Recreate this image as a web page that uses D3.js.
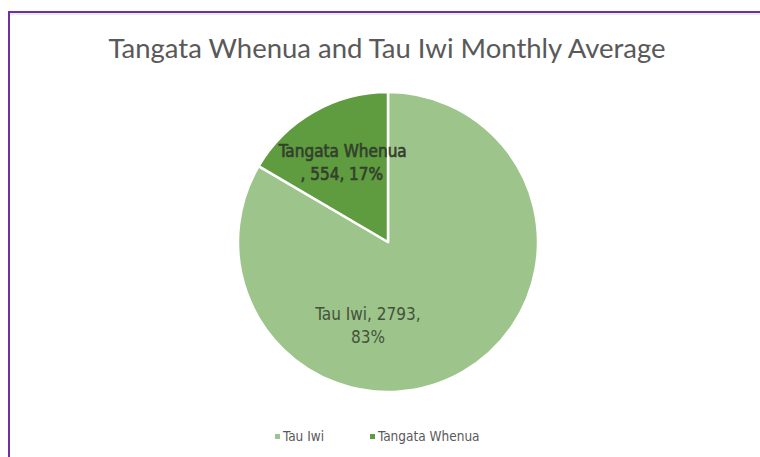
<!DOCTYPE html>
<html><head><meta charset="utf-8">
<script src="https://cdn.jsdelivr.net/npm/d3@7"></script>
<style>html,body{margin:0;padding:0;background:#fff;}svg{display:block;}</style>
</head><body>
<svg id="c" width="760" height="457"></svg>
<script>
const categories = ["Tau Iwi", "Tangata Whenua"];
const values = [2793, 554];
const percents = ["83%", "17%"];
const colors = ["#9dc48a", "#5f9b3f"];
const title = "Tangata Whenua and Tau Iwi Monthly Average";

const svg = d3.select("#c");
// frame
svg.append("rect").attr("x", 9).attr("y", 12).attr("width", 800).attr("height", 500)
  .attr("fill", "#fff").attr("stroke", "#7030a0").attr("stroke-width", 2);
svg.append("line").attr("x1", 10).attr("x2", 760).attr("y1", 14).attr("y2", 14)
  .attr("stroke", "#e4e4e4").attr("stroke-width", 1.5);

svg.append("text").attr("x", 387).attr("y", 58).attr("text-anchor", "middle")
  .attr("font-family", "Lato").attr("font-size", 27.5).attr("fill", "#595959").text(title);

const cx = 388, cy = 242, r = 150;
const pie = d3.pie().sort(null).value(d => d)(values);
const arc = d3.arc().innerRadius(0).outerRadius(r);
const g = svg.append("g").attr("transform", `translate(${cx},${cy})`);
g.selectAll("path").data(pie).join("path")
  .attr("d", arc).attr("fill", (d, i) => colors[i])
  .attr("stroke", "#fff").attr("stroke-width", 2.5).attr("stroke-linejoin", "round");

const labelLines = [
  [`${categories[0]}, ${values[0]},`, percents[0]],
  [categories[1], `, ${values[1]}, ${percents[1]}`]
];
const labelArcAngle = [Math.PI * 193.5 / 180, null];
const labelR = [86, 91];
const labelStroke = [0, 0.6];
const labelFill = ["#43533a", "#33402c"];
pie.forEach((d, i) => {
  const a = labelArcAngle[i] != null ? labelArcAngle[i] : (d.startAngle + d.endAngle) / 2;
  const x = Math.sin(a) * labelR[i], y = -Math.cos(a) * labelR[i];
  const t = g.append("text").attr("text-anchor", "middle")
    .attr("font-family", "DejaVu Sans Condensed, DejaVu Sans").attr("font-size", 17)
    .attr("fill", labelFill[i]).attr("stroke", labelFill[i]).attr("stroke-width", labelStroke[i]);
  labelLines[i].forEach((s, k) => {
    t.append("tspan").attr("x", x + (i === 1 && k === 1 ? -1 : 0)).attr("y", y - 6 + k * 23).text(s);
  });
});

// legend
const leg = svg.append("g");
const legX = [275, 370];
categories.forEach((c, i) => {
  leg.append("rect").attr("x", legX[i]).attr("y", 434).attr("width", 5).attr("height", 5).attr("fill", colors[i]);
  leg.append("text").attr("x", legX[i] + 8).attr("y", 441)
    .attr("font-family", "DejaVu Sans Condensed, DejaVu Sans").attr("font-size", 13.5).attr("fill", "#595959").text(c);
});
</script>
</body></html>
